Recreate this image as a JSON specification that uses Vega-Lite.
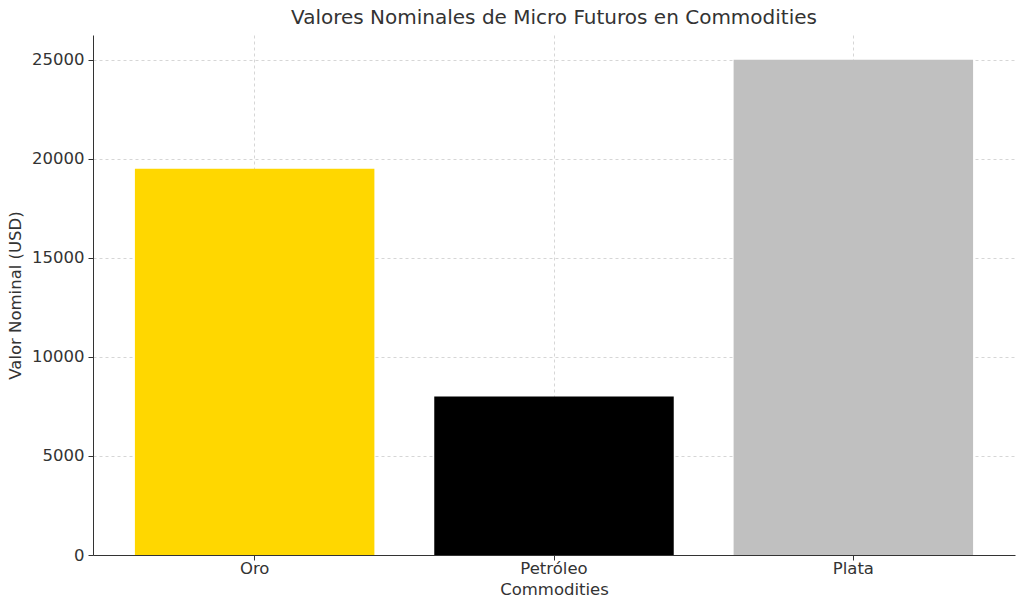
{
  "$schema": "https://vega.github.io/schema/vega-lite/v6.json",
  "autosize": "none",
  "width": 922,
  "height": 520,
  "padding": {"left": 93, "top": 35, "right": 9, "bottom": 55},
  "background": "white",
  "title": {
    "text": "Valores Nominales de Micro Futuros en Commodities",
    "font": "DejaVu Sans",
    "fontSize": 20,
    "fontWeight": "normal",
    "color": "#333333",
    "anchor": "middle",
    "offset": 7
  },
  "data": {
    "values": [
      {"commodity": "Oro", "valor": 19500, "color": "#FFD700"},
      {"commodity": "Petróleo", "valor": 8000, "color": "#000000"},
      {"commodity": "Plata", "valor": 25000, "color": "#C0C0C0"}
    ]
  },
  "config": {
    "view": {"stroke": null},
    "axis": {
      "labelFont": "DejaVu Sans",
      "titleFont": "DejaVu Sans",
      "labelFontSize": 16.5,
      "titleFontSize": 16.5,
      "titleFontWeight": "normal",
      "labelColor": "#333333",
      "titleColor": "#333333",
      "domainColor": "#333333",
      "tickColor": "#333333",
      "tickSize": 5,
      "grid": true,
      "gridColor": "#cccccc",
      "gridDash": [3, 3],
      "gridWidth": 0.8,
      "zindex": 1
    }
  },
  "mark": {"type": "bar"},
  "encoding": {
    "x": {
      "field": "commodity",
      "type": "nominal",
      "sort": null,
      "title": "Commodities",
      "scale": {"paddingInner": 0.2, "paddingOuter": 0.14},
      "axis": {"labelAngle": 0, "labelPadding": 0, "titlePadding": 5}
    },
    "y": {
      "field": "valor",
      "type": "quantitative",
      "title": "Valor Nominal (USD)",
      "scale": {"domain": [0, 26250], "nice": false},
      "axis": {"values": [0, 5000, 10000, 15000, 20000, 25000], "format": "d", "labelPadding": 4, "titlePadding": 8}
    },
    "color": {"field": "color", "type": "nominal", "scale": null, "legend": null}
  }
}
